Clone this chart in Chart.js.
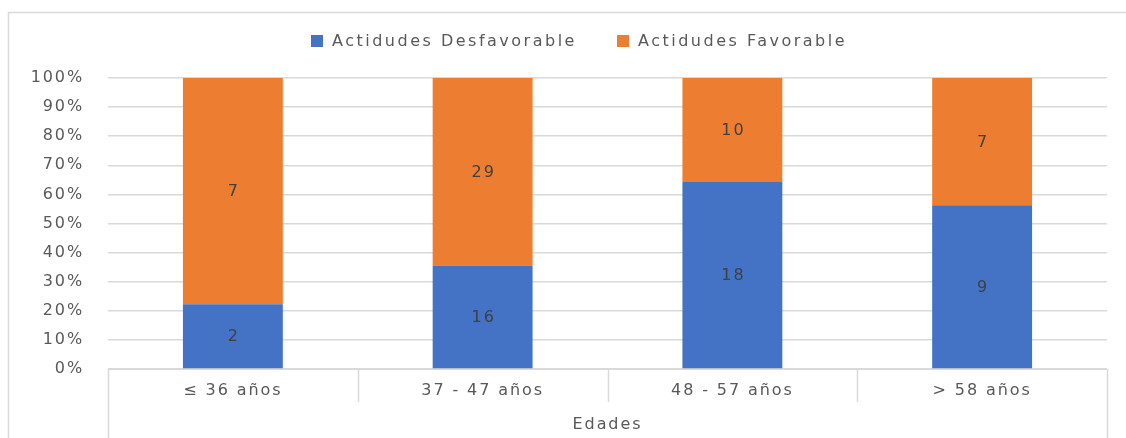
<!DOCTYPE html>
<html lang="es">
<head>
<meta charset="utf-8">
<title>Actitudes por edades</title>
<script src="https://cdn.jsdelivr.net/npm/chart.js@4.4.1/dist/chart.umd.min.js"></script>
<style>
  html, body { margin: 0; padding: 0; background: #ffffff; }
  #wrap { position: relative; width: 1126px; height: 438px; overflow: hidden; }
  canvas { display: block; }
</style>
</head>
<body>
<div id="wrap"><canvas id="chart" width="1126" height="438"></canvas></div>
<script>
// Grupos de edad y número de respuestas por actitud
const categories = ['≤ 36 años', '37 - 47 años', '48 - 57 años', '> 58 años'];
const desfavorable = [2, 16, 18, 9];
const favorable = [7, 29, 10, 7];
const seriesNames = ['Actidudes Desfavorable', 'Actidudes Favorable'];
const seriesColors = ['#4472C4', '#ED7D31'];

// Porcentaje de cada grupo (barras apiladas al 100 %)
const totals = categories.map((_, i) => desfavorable[i] + favorable[i]);
const pct = arr => arr.map((v, i) => v / totals[i] * 100);

const FONT = 'DejaVu Sans';
const TEXT = '#595959';
const LINE = '#d9d9d9';
const SPACING = '1.9px';

// Espaciado entre letras aplicado a todo el texto del lienzo
const spacingPlugin = {
  id: 'spacing',
  beforeUpdate(chart) { chart.ctx.letterSpacing = SPACING; },
  beforeDraw(chart) { chart.ctx.letterSpacing = SPACING; }
};

// Marco exterior, leyenda y separadores del eje de categorías
const framePlugin = {
  id: 'frame',
  afterDraw(chart) {
    const ctx = chart.ctx;
    const x = chart.scales.x;
    const h = chart.height;
    ctx.save();
    ctx.strokeStyle = LINE;
    ctx.lineWidth = 1.5;
    // marco
    ctx.beginPath();
    ctx.moveTo(8.5, h);
    ctx.lineTo(8.5, 12.5);
    ctx.lineTo(chart.width, 12.5);
    ctx.stroke();
    // separadores entre categorías
    const n = categories.length;
    const step = (x.right - x.left) / n;
    for (let i = 0; i <= n; i++) {
      const px = Math.round(x.left + i * step) + 0.5;
      ctx.beginPath();
      ctx.moveTo(px, x.top);
      ctx.lineTo(px, (i === 0 || i === n) ? h : x.top + 33);
      ctx.stroke();
    }
    // leyenda
    ctx.font = '16px "' + FONT + '"';
    ctx.letterSpacing = '2.5px';
    ctx.textBaseline = 'middle';
    ctx.textAlign = 'left';
    const legendX = [311, 617];
    const legendY = 41;
    chart.data.datasets.forEach((ds, i) => {
      ctx.fillStyle = ds.backgroundColor;
      ctx.fillRect(legendX[i], legendY - 6, 12, 12);
      ctx.fillStyle = TEXT;
      ctx.fillText(ds.label, legendX[i] + 21, legendY + 1);
    });
    ctx.restore();
  }
};

// Número de respuestas en el centro de cada segmento
const valueLabels = {
  id: 'valueLabels',
  afterDatasetsDraw(chart) {
    const ctx = chart.ctx;
    ctx.save();
    ctx.font = '16px "' + FONT + '"';
    ctx.fillStyle = '#404040';
    ctx.textAlign = 'center';
    ctx.textBaseline = 'middle';
    chart.data.datasets.forEach((ds, di) => {
      chart.getDatasetMeta(di).data.forEach((bar, i) => {
        const p = bar.getProps(['x', 'y', 'base'], true);
        ctx.fillText(String(ds.counts[i]), p.x + 1, (p.y + p.base) / 2 + 1);
      });
    });
    ctx.restore();
  }
};

new Chart(document.getElementById('chart'), {
  type: 'bar',
  data: {
    labels: categories,
    datasets: [
      { label: seriesNames[0], data: pct(desfavorable), counts: desfavorable,
        backgroundColor: seriesColors[0] },
      { label: seriesNames[1], data: pct(favorable), counts: favorable,
        backgroundColor: seriesColors[1] }
    ]
  },
  options: {
    responsive: false,
    animation: false,
    devicePixelRatio: 1,
    barPercentage: 0.4,
    categoryPercentage: 1,
    layout: { padding: { top: 78, right: 19, bottom: 0, left: 0 } },
    plugins: {
      legend: { display: false },
      tooltip: { enabled: false }
    },
    scales: {
      x: {
        stacked: true,
        grid: { display: false, drawTicks: false },
        border: { display: true, color: LINE, width: 1 },
        ticks: { color: TEXT, padding: 12, font: { family: FONT, size: 16 } },
        title: { display: true, text: 'Edades', color: TEXT,
                 font: { family: FONT, size: 16 }, padding: { top: 4, bottom: 4 } },
        afterFit(scale) { scale.height = 69; }
      },
      y: {
        stacked: true,
        min: 0,
        max: 100,
        grid: { color: LINE, lineWidth: 1.5, drawTicks: false },
        border: { display: false },
        ticks: { stepSize: 10, color: TEXT, padding: 24,
                 font: { family: FONT, size: 16 },
                 callback: v => v + '%' },
        afterFit(scale) { scale.width = 108; }
      }
    }
  },
  plugins: [spacingPlugin, valueLabels, framePlugin]
});
</script>
</body>
</html>
